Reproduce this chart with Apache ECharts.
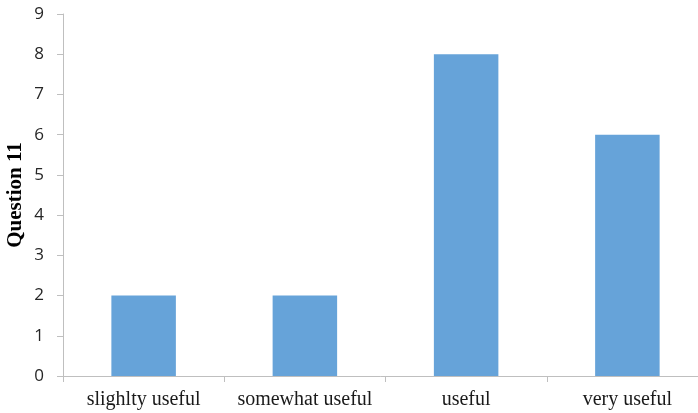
<!DOCTYPE html>
<html>
<head>
<meta charset="utf-8">
<script src="https://cdn.jsdelivr.net/npm/echarts@6/dist/echarts.min.js"></script>
<style>
html,body{margin:0;padding:0;background:#fff;}
#chart{width:698px;height:413px;}
</style>
</head>
<body>
<div id="chart"></div>
<script>
// Responses to question 11
const categories = ['slighlty useful', 'somewhat useful', 'useful', 'very useful'];
const counts = [2, 2, 8, 6];
const axisTitle = 'Question 11';

const chart = echarts.init(document.getElementById('chart'));
chart.setOption({
  animation: false,
  backgroundColor: '#ffffff',
  grid: { left: 63, right: -10, top: 14, bottom: 37, containLabel: false, outerBoundsMode: 'none' },
  xAxis: {
    type: 'category',
    data: categories,
    boundaryGap: true,
    axisLine: { lineStyle: { color: '#bfbfbf', width: 1 } },
    axisTick: { show: true, length: 6, interval: 0, alignWithLabel: false, lineStyle: { color: '#bfbfbf' } },
    axisLabel: { interval: 0, hideOverlap: false, color: '#1a1a1a', fontFamily: 'Liberation Serif', fontSize: 20, margin: 14 },
    splitLine: { show: false }
  },
  yAxis: {
    type: 'value',
    min: 0,
    max: 9,
    interval: 1,
    name: axisTitle,
    nameLocation: 'middle',
    nameRotate: 90,
    nameGap: 37,
    nameMoveOverlap: false,
    nameTextStyle: { fontFamily: 'Liberation Serif', fontWeight: 'bold', fontSize: 21, color: '#000' },
    axisLine: { show: true, lineStyle: { color: '#bfbfbf', width: 1 } },
    axisTick: { show: true, length: 6, lineStyle: { color: '#bfbfbf' } },
    axisLabel: { color: '#262626', fontFamily: 'Open Sans', fontSize: 17, margin: 19 },
    splitLine: { show: false }
  },
  series: [{
    type: 'bar',
    data: counts,
    barWidth: '40%',
    itemStyle: { color: '#66a3d9' }
  }]
});
</script>
</body>
</html>
